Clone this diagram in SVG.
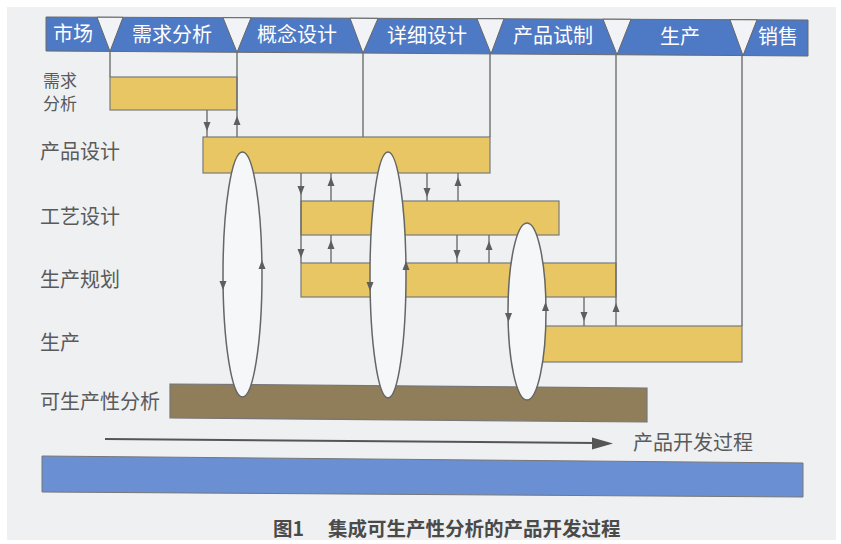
<svg xmlns="http://www.w3.org/2000/svg" xmlns:xlink="http://www.w3.org/1999/xlink" width="841" height="544" viewBox="0 0 841 544">
<style>
.top{fill:#4e79c5;stroke:#6a6a6a;stroke-width:1}
.gate{fill:#f2f3f6;stroke:#666;stroke-width:1}
.bar{fill:#e9c664;stroke:#7a7a7a;stroke-width:1.2}
.dfm{fill:#8f7e59;stroke:#777;stroke-width:1.2}
.base{fill:#6a8fd3;stroke:#777;stroke-width:1}
.ln{stroke:#6e6e6e;stroke-width:1.4;fill:none}
.lens{fill:#f6f7f9;stroke:#666;stroke-width:1.5}
.tl{font-family:"Noto Sans CJK SC","Noto Sans",sans-serif;font-size:20px;fill:#ffffff}
.lbl{font-family:"Noto Sans CJK SC","Noto Sans",sans-serif;font-size:20px;fill:#5a5a5a}
.cap{font-family:"Noto Sans CJK SC","Noto Sans",sans-serif;font-size:19.5px;font-weight:bold;fill:#4a4a4a}
</style>
<defs>
<path id="dn" d="M-3.5,-9 L3.5,-9 L0,0 Z" fill="#5e5e5e"/>
<path id="up" d="M-3.5,9 L3.5,9 L0,0 Z" fill="#5e5e5e"/>
</defs>
<rect x="0" y="0" width="841" height="544" fill="#ffffff"/>
<rect x="7" y="7" width="829" height="533" fill="#eef0f2"/>

<g id="phases">
<polygon class="top" points="46,17 808,20 808,56 46,51"/>
<polygon class="gate" points="97,17.2 123,17.3 110,51.4"/>
<polygon class="gate" points="223,17.7 251,17.8 237,52.3"/>
<polygon class="gate" points="350,18.2 378,18.4 363,53.1"/>
<polygon class="gate" points="477,18.7 504,18.8 491,53.9"/>
<polygon class="gate" points="603,19.2 631,19.3 617,54.7"/>
<polygon class="gate" points="730,19.7 757,19.8 743,55.6"/>
<text class="tl" x="53" y="41">市场</text>
<text class="tl" x="132" y="42">需求分析</text>
<text class="tl" x="257" y="42">概念设计</text>
<text class="tl" x="387" y="43">详细设计</text>
<text class="tl" x="513" y="43">产品试制</text>
<text class="tl" x="660" y="44">生产</text>
<text class="tl" x="758" y="44">销售</text>
</g>

<g id="req">
<rect class="bar" x="110" y="77" width="127" height="33"/>
<text class="lbl" style="font-size:17px"><tspan x="43" y="87">需求</tspan><tspan x="43" y="110">分析</tspan></text>
</g>
<g id="design">
<rect class="bar" x="203" y="137" width="287" height="36"/>
<text class="lbl" x="40" y="159">产品设计</text>
</g>
<g id="process">
<rect class="bar" x="301" y="201" width="258" height="34"/>
<text class="lbl" x="40" y="224">工艺设计</text>
</g>
<g id="planning">
<rect class="bar" x="301" y="263" width="315" height="34"/>
<text class="lbl" x="40" y="287">生产规划</text>
</g>
<g id="production">
<rect class="bar" x="530" y="326" width="212" height="36"/>
<text class="lbl" x="40" y="350">生产</text>
</g>
<g id="dfm">
<polygon class="dfm" points="170,384 647,388 647,422 170,418"/>
<text class="lbl" x="40" y="409">可生产性分析</text>
</g>

<g id="connectors">
<path class="ln" d="M110 51 V77"/>
<path class="ln" d="M237 52 V137"/>
<use href="#up" x="237" y="116"/>
<path class="ln" d="M207 110 V137"/>
<use href="#dn" x="207" y="131"/>
<path class="ln" d="M363 53 V137"/>
<path class="ln" d="M490 54 V137"/>
<path class="ln" d="M301 173 V263"/>
<use href="#dn" x="301" y="195"/>
<use href="#dn" x="301" y="258"/>
<path class="ln" d="M331 173 V201 M331 235 V263"/>
<use href="#up" x="331" y="177"/>
<use href="#up" x="331" y="240"/>
<path class="ln" d="M427 173 V201"/>
<use href="#dn" x="427" y="197"/>
<path class="ln" d="M458 173 V201"/>
<use href="#up" x="458" y="177"/>
<path class="ln" d="M457 235 V263"/>
<use href="#dn" x="457" y="259"/>
<path class="ln" d="M489 235 V263"/>
<use href="#up" x="489" y="241"/>
<path class="ln" d="M616 55 V326"/>
<use href="#up" x="616" y="303"/>
<path class="ln" d="M584 297 V326"/>
<use href="#dn" x="584" y="321"/>
<path class="ln" d="M742 56 V326"/>
</g>

<g id="loop1">
<ellipse class="lens" cx="242.5" cy="274.5" rx="19.5" ry="122.5"/>
<use href="#dn" x="223" y="290"/>
<use href="#up" x="262" y="260"/>
</g>
<g id="loop2">
<ellipse class="lens" cx="388" cy="275" rx="18" ry="123"/>
<use href="#dn" x="370" y="291"/>
<use href="#up" x="406" y="261"/>
</g>
<g id="loop3">
<ellipse class="lens" cx="527" cy="311.5" rx="19" ry="88.5"/>
<use href="#dn" x="508.5" y="322"/>
<use href="#up" x="545.5" y="302"/>
</g>

<g id="timeline">
<path d="M105 439 L596 443" stroke="#555" stroke-width="2" fill="none"/>
<polygon points="592,437.5 613,443.5 592,449.5" fill="#555"/>
<text class="lbl" x="633" y="450">产品开发过程</text>
<polygon class="base" points="42,456 803,463 803,497 42,492"/>
</g>

<text class="cap" x="273" y="536"><tspan x="273">图1</tspan><tspan x="328">集成可生产性分析的产品开发过程</tspan></text>
</svg>
